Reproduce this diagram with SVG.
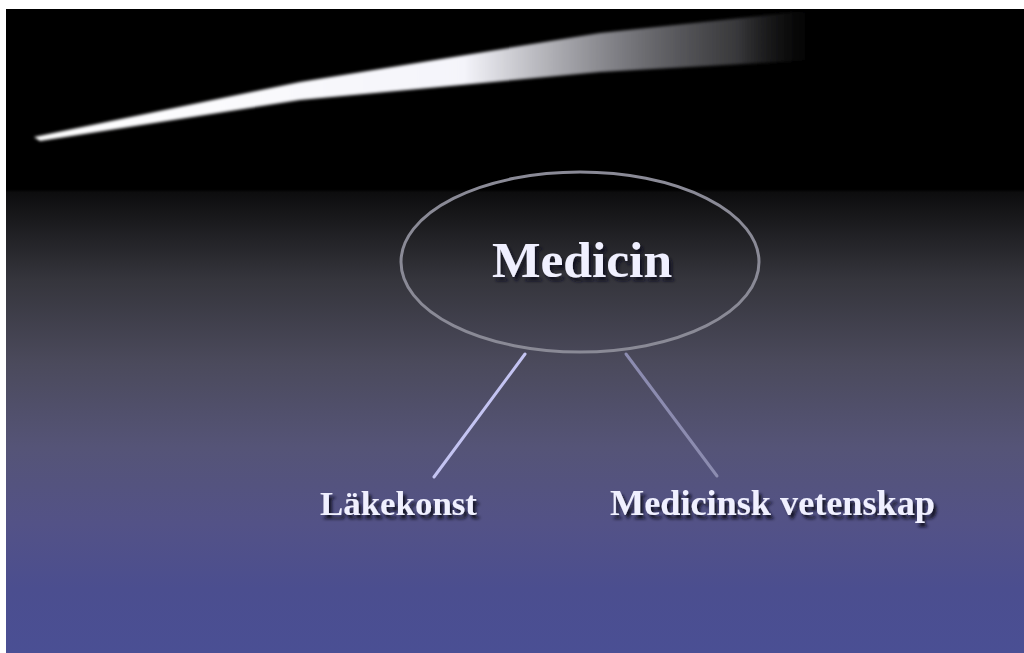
<svg xmlns="http://www.w3.org/2000/svg" width="1024" height="653" viewBox="0 0 1024 653">
  <defs>
    <linearGradient id="bg" x1="0" y1="0" x2="0" y2="1" gradientUnits="objectBoundingBox">
      <stop offset="0" stop-color="#000000"/>
      <stop offset="0.28" stop-color="#000000"/>
      <stop offset="0.285" stop-color="#0d0d0e"/>
      <stop offset="0.42" stop-color="#35353c"/>
      <stop offset="0.55" stop-color="#4b4a5c"/>
      <stop offset="0.68" stop-color="#555477"/>
      <stop offset="0.8" stop-color="#535287"/>
      <stop offset="0.9" stop-color="#4b4e8f"/>
      <stop offset="1" stop-color="#4a4f94"/>
    </linearGradient>
    <linearGradient id="streak" x1="35" y1="0" x2="815" y2="0" gradientUnits="userSpaceOnUse">
      <stop offset="0" stop-color="#ffffff" stop-opacity="1"/>
      <stop offset="0.55" stop-color="#f4f4fa" stop-opacity="1"/>
      <stop offset="0.75" stop-color="#8a8a90" stop-opacity="0.9"/>
      <stop offset="0.9" stop-color="#505054" stop-opacity="0.7"/>
      <stop offset="1" stop-color="#202020" stop-opacity="0"/>
    </linearGradient>
    <filter id="blur" x="-5%" y="-50%" width="110%" height="200%">
      <feGaussianBlur stdDeviation="1.5"/>
    </filter>
    <filter id="shadow" x="-10%" y="-30%" width="120%" height="160%">
      <feGaussianBlur in="SourceAlpha" stdDeviation="1.5"/>
      <feOffset dx="3" dy="4" result="o"/>
      <feFlood flood-color="#101020" flood-opacity="0.9"/>
      <feComposite in2="o" operator="in"/>
      <feMerge>
        <feMergeNode/>
        <feMergeNode in="SourceGraphic"/>
      </feMerge>
    </filter>
  </defs>
  <style>
    .lbl { font-family: "Liberation Serif", "Times New Roman", serif; font-weight: bold; fill: #f0f0ff; filter: url(#shadow); }
    .conn { fill: none; stroke-width: 3; stroke-linecap: round; }
  </style>

  <rect x="0" y="0" width="1024" height="653" fill="#ffffff"/>
  <rect x="6" y="9" width="1018" height="644" fill="url(#bg)"/>

  <path d="M 34 137 L 300 82 L 600 33 L 815 10 L 815 60 L 600 72 L 300 100 L 40 141 Z" fill="url(#streak)" filter="url(#blur)"/>

  <g id="connectors">
    <line class="conn" x1="525" y1="354" x2="434" y2="477" stroke="#c4c4f2"/>
    <line class="conn" x1="626" y1="354" x2="717" y2="476" stroke="#8c8cb0"/>
  </g>

  <g id="medicin">
    <ellipse cx="580" cy="262" rx="179" ry="90" fill="none" stroke="#8a8a96" stroke-width="3"/>
    <text class="lbl" x="582" y="277" font-size="51" text-anchor="middle" textLength="180" lengthAdjust="spacingAndGlyphs">Medicin</text>
  </g>

  <g id="lakekonst">
    <text class="lbl" x="320" y="515" font-size="34" textLength="157" lengthAdjust="spacingAndGlyphs">Läkekonst</text>
  </g>

  <g id="medicinsk-vetenskap">
    <text class="lbl" x="610" y="515" font-size="35" textLength="325" lengthAdjust="spacingAndGlyphs">Medicinsk vetenskap</text>
  </g>
</svg>
